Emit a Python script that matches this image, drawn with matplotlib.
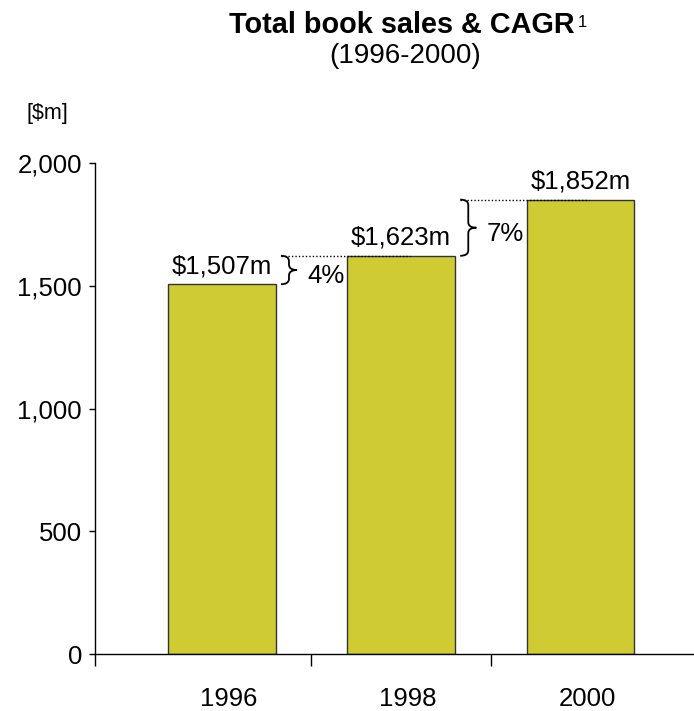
import matplotlib.pyplot as plt
from matplotlib.path import Path
from matplotlib.patches import PathPatch
from matplotlib.transforms import ScaledTranslation

# Book sales by year ($m) and growth between the bars
years = ['1996', '1998', '2000']
sales = [1507, 1623, 1852]
value_labels = ['$1,507m', '$1,623m', '$1,852m']
cagr_labels = ['4%', '7%']
y_ticks = [0, 500, 1000, 1500, 2000]

plt.rcParams['font.family'] = ['Liberation Sans', 'DejaVu Sans']

W, H = 694, 711
fig = plt.figure(figsize=(W / 100, H / 100), dpi=100)
ax = fig.add_axes([95 / W, (H - 654) / H, 1 - 95 / W, (654 - 163.3) / H])

x = list(range(len(years)))
ax.bar(x, sales, width=0.6, color='#cfcc33', edgecolor='#333333',
       linewidth=1, zorder=2)
ax.set_xlim(-0.707, 2.634)
ax.set_ylim(0, 2000)

for side in ['top', 'right']:
    ax.spines[side].set_visible(False)
for side in ['left', 'bottom']:
    ax.spines[side].set_linewidth(1)

# y axis
ax.set_yticks(y_ticks)
ax.set_yticklabels([f'{v:,}' for v in y_ticks])
ax.tick_params(axis='y', direction='out', length=4.3, width=1, pad=5,
               labelsize=18.5)

# x axis: labels under the bars, tick marks between them
ax.set_xticks(x)
ax.set_xticklabels(years)
ax.tick_params(axis='x', which='major', length=0, pad=24, labelsize=18.5)
ax.set_xticks([ax.get_xlim()[0], 0.5, 1.5], minor=True)
ax.tick_params(axis='x', which='minor', direction='out', length=8.6, width=1)
for lbl in ax.get_xticklabels():
    lbl.set_transform(lbl.get_transform()
                      + ScaledTranslation(7 / 100, 0, fig.dpi_scale_trans))

# value labels above bars
for xi, v, lab in zip(x, sales, value_labels):
    ax.annotate(lab, (xi, v), xytext=(0, 11), textcoords='offset pixels',
                ha='center', va='baseline', fontsize=18.5)


def draw_brace(ax, x0, y_lo, y_hi, w, r=22):
    """Right-facing curly brace from y_lo to y_hi, starting at x0."""
    ym = (y_lo + y_hi) / 2
    xm = x0 + w * 0.5
    verts = [(x0, y_hi),
             (xm, y_hi), (xm, y_hi - r),
             (xm, ym + r),
             (xm, ym), (x0 + w, ym),
             (xm, ym), (xm, ym - r),
             (xm, y_lo + r),
             (xm, y_lo), (x0, y_lo)]
    codes = [Path.MOVETO,
             Path.CURVE3, Path.CURVE3,
             Path.LINETO,
             Path.CURVE3, Path.CURVE3,
             Path.CURVE3, Path.CURVE3,
             Path.LINETO,
             Path.CURVE3, Path.CURVE3]
    ax.add_patch(PathPatch(Path(verts, codes), facecolor='none',
                           edgecolor='black', lw=1.3, zorder=3))


# growth braces between consecutive bars
for i, pct in enumerate(cagr_labels):
    lo, hi = sales[i], sales[i + 1]
    bx = i + 0.33
    ax.plot([bx, i + 1 + 0.05], [hi, hi], color='black', lw=1,
            linestyle=(0, (1, 1.5)), zorder=3)
    draw_brace(ax, bx, lo, hi, 0.09)
    ax.annotate(pct, (i + 0.475, (lo + hi) / 2), xytext=(0, -13),
                textcoords='offset pixels', ha='left', va='baseline',
                fontsize=18.5)

# titles
fig.text(229 / W, 1 - 33 / H, 'Total book sales & CAGR', fontsize=20.8,
         fontweight='bold', ha='left', va='baseline')
fig.text(578 / W, 1 - 27 / H, '1', fontsize=12, ha='left', va='baseline')
fig.text(405 / W, 1 - 63 / H, '(1996-2000)', fontsize=20,
         ha='center', va='baseline')
fig.text(27 / W, 1 - 119 / H, '[$m]', fontsize=15.5, ha='left',
         va='baseline')

fig.savefig('out.png', dpi=100)
